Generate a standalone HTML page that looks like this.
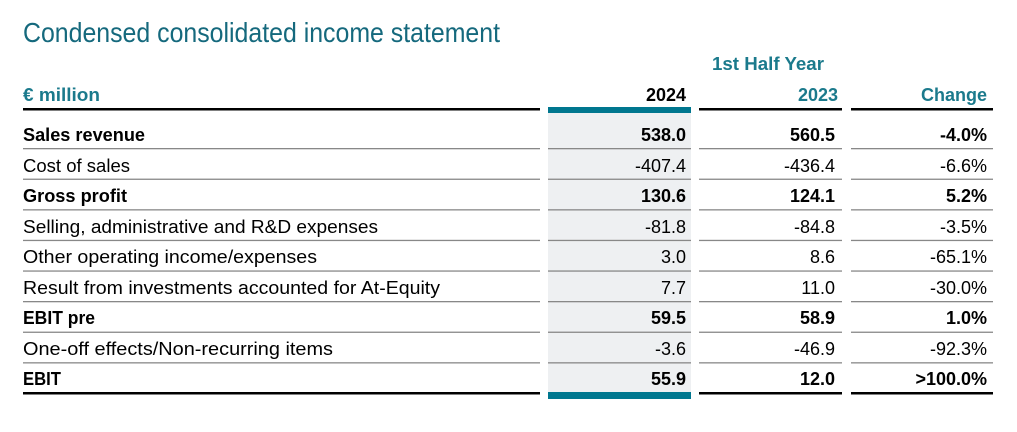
<!DOCTYPE html>
<html><head><meta charset="utf-8"><style>
html,body{margin:0;padding:0;background:#fff;}
svg{display:block;font-family:"Liberation Sans",sans-serif;}
</style></head><body>
<svg width="1017" height="432" viewBox="0 0 1017 432" xmlns="http://www.w3.org/2000/svg">
<text x="23" y="42" font-size="28" fill="#15697d" textLength="477" lengthAdjust="spacingAndGlyphs">Condensed consolidated income statement</text>
<text x="768" y="70" font-size="18" font-weight="bold" fill="#1b7a8c" text-anchor="middle" textLength="112" lengthAdjust="spacingAndGlyphs">1st Half Year</text>
<text x="23" y="101" font-size="18" font-weight="bold" fill="#1b7a8c" textLength="77" lengthAdjust="spacingAndGlyphs">€ million</text>
<text x="686" y="101" font-size="18" font-weight="bold" fill="#000" text-anchor="end">2024</text>
<text x="838" y="101" font-size="18" font-weight="bold" fill="#1b7a8c" text-anchor="end">2023</text>
<text x="987" y="101" font-size="18" font-weight="bold" fill="#1b7a8c" text-anchor="end">Change</text>
<rect x="548" y="113" width="143" height="279" fill="#eef0f2"/>
<rect x="23" y="108" width="517" height="2.5" fill="#000"/>
<rect x="699" y="108" width="143" height="2.5" fill="#000"/>
<rect x="851" y="108" width="142" height="2.5" fill="#000"/>
<rect x="548" y="107" width="143" height="6" fill="#00778f"/>
<g fill="#888">
<rect x="23" y="148" width="517" height="1.3"/><rect x="548" y="148" width="143" height="1.3"/><rect x="699" y="148" width="143" height="1.3"/><rect x="851" y="148" width="142" height="1.3"/>
<rect x="23" y="178.6" width="517" height="1.3"/><rect x="548" y="178.6" width="143" height="1.3"/><rect x="699" y="178.6" width="143" height="1.3"/><rect x="851" y="178.6" width="142" height="1.3"/>
<rect x="23" y="209.2" width="517" height="1.3"/><rect x="548" y="209.2" width="143" height="1.3"/><rect x="699" y="209.2" width="143" height="1.3"/><rect x="851" y="209.2" width="142" height="1.3"/>
<rect x="23" y="239.8" width="517" height="1.3"/><rect x="548" y="239.8" width="143" height="1.3"/><rect x="699" y="239.8" width="143" height="1.3"/><rect x="851" y="239.8" width="142" height="1.3"/>
<rect x="23" y="270.4" width="517" height="1.3"/><rect x="548" y="270.4" width="143" height="1.3"/><rect x="699" y="270.4" width="143" height="1.3"/><rect x="851" y="270.4" width="142" height="1.3"/>
<rect x="23" y="301" width="517" height="1.3"/><rect x="548" y="301" width="143" height="1.3"/><rect x="699" y="301" width="143" height="1.3"/><rect x="851" y="301" width="142" height="1.3"/>
<rect x="23" y="331.6" width="517" height="1.3"/><rect x="548" y="331.6" width="143" height="1.3"/><rect x="699" y="331.6" width="143" height="1.3"/><rect x="851" y="331.6" width="142" height="1.3"/>
<rect x="23" y="362.2" width="517" height="1.3"/><rect x="548" y="362.2" width="143" height="1.3"/><rect x="699" y="362.2" width="143" height="1.3"/><rect x="851" y="362.2" width="142" height="1.3"/>
</g>
<rect x="23" y="392" width="517" height="2.5" fill="#000"/>
<rect x="699" y="392" width="143" height="2.5" fill="#000"/>
<rect x="851" y="392" width="142" height="2.5" fill="#000"/>
<rect x="548" y="392" width="143" height="7" fill="#00778f"/>
<g font-size="18" fill="#000">
<text x="23" y="141" font-weight="bold" textLength="122" lengthAdjust="spacingAndGlyphs">Sales revenue</text>
<text x="686" y="141" font-weight="bold" text-anchor="end">538.0</text><text x="835" y="141" font-weight="bold" text-anchor="end">560.5</text><text x="987" y="141" font-weight="bold" text-anchor="end">-4.0%</text>
<text x="23" y="172" textLength="107" lengthAdjust="spacingAndGlyphs">Cost of sales</text>
<text x="686" y="172" text-anchor="end">-407.4</text><text x="835" y="172" text-anchor="end">-436.4</text><text x="987" y="172" text-anchor="end">-6.6%</text>
<text x="23" y="202" font-weight="bold" textLength="104" lengthAdjust="spacingAndGlyphs">Gross profit</text>
<text x="686" y="202" font-weight="bold" text-anchor="end">130.6</text><text x="835" y="202" font-weight="bold" text-anchor="end">124.1</text><text x="987" y="202" font-weight="bold" text-anchor="end">5.2%</text>
<text x="23" y="233" textLength="355" lengthAdjust="spacingAndGlyphs">Selling, administrative and R&amp;D expenses</text>
<text x="686" y="233" text-anchor="end">-81.8</text><text x="835" y="233" text-anchor="end">-84.8</text><text x="987" y="233" text-anchor="end">-3.5%</text>
<text x="23" y="263" textLength="294" lengthAdjust="spacingAndGlyphs">Other operating income/expenses</text>
<text x="686" y="263" text-anchor="end">3.0</text><text x="835" y="263" text-anchor="end">8.6</text><text x="987" y="263" text-anchor="end">-65.1%</text>
<text x="23" y="294" textLength="417" lengthAdjust="spacingAndGlyphs">Result from investments accounted for At-Equity</text>
<text x="686" y="294" text-anchor="end">7.7</text><text x="835" y="294" text-anchor="end">11.0</text><text x="987" y="294" text-anchor="end">-30.0%</text>
<text x="23" y="324" font-weight="bold" textLength="72" lengthAdjust="spacingAndGlyphs">EBIT pre</text>
<text x="686" y="324" font-weight="bold" text-anchor="end">59.5</text><text x="835" y="324" font-weight="bold" text-anchor="end">58.9</text><text x="987" y="324" font-weight="bold" text-anchor="end">1.0%</text>
<text x="23" y="355" textLength="310" lengthAdjust="spacingAndGlyphs">One-off effects/Non-recurring items</text>
<text x="686" y="355" text-anchor="end">-3.6</text><text x="835" y="355" text-anchor="end">-46.9</text><text x="987" y="355" text-anchor="end">-92.3%</text>
<text x="23" y="385" font-weight="bold" textLength="38" lengthAdjust="spacingAndGlyphs">EBIT</text>
<text x="686" y="385" font-weight="bold" text-anchor="end">55.9</text><text x="835" y="385" font-weight="bold" text-anchor="end">12.0</text><text x="987" y="385" font-weight="bold" text-anchor="end">&gt;100.0%</text>
</g>
</svg>
</body></html>
